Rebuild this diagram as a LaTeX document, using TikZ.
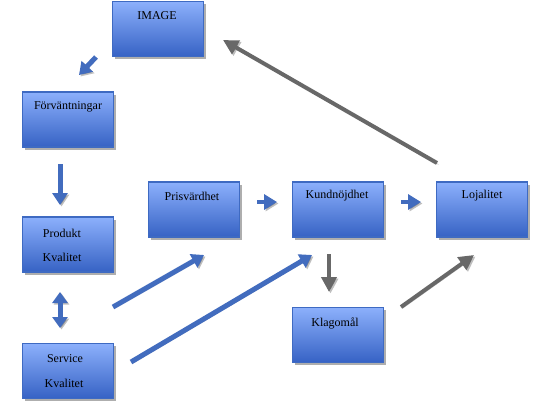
\documentclass[tikz,border=0pt]{standalone}
\usepackage{fontspec}
\setmainfont{Liberation Serif}
\usetikzlibrary{arrows.meta,shadows}
\definecolor{boxtop}{RGB}{140,176,252}
\definecolor{boxbot}{RGB}{54,98,196}
\definecolor{boxline}{RGB}{62,106,194}
\definecolor{arrblue}{RGB}{66,108,190}
\definecolor{arrgray}{RGB}{104,104,104}
\begin{document}
\begin{tikzpicture}[x=1pt,y=-1pt,
  box/.style={draw=boxline, line width=1.2pt, top color=boxtop, bottom color=boxbot,
    minimum width=91pt, minimum height=55pt, inner sep=0pt,
    drop shadow={shadow xshift=2.5pt,shadow yshift=-2.5pt,opacity=0.45,fill=black!70}},
  lbl/.style={font=\fontsize{12}{14}\selectfont, inner sep=0pt, text=black},
  ashadow/.style={preaction={draw=black, opacity=0.25, transform canvas={shift={(1.5pt,-1.5pt)}}}},
  barrow/.style={draw=arrblue, line width=5pt, -{Triangle[width=15pt,length=12pt]}, ashadow},
  bdouble/.style={draw=arrblue, line width=5pt, {Triangle[width=15pt,length=11pt]}-{Triangle[width=15pt,length=11pt]}, ashadow},
  sarrow/.style={draw=arrblue, line width=4pt, -{Triangle[width=15pt,length=13pt]}, ashadow},
  garrow/.style={draw=arrgray, line width=4pt, -{Triangle[width=15pt,length=15pt]}, ashadow}]
\useasboundingbox[fill=white] (0,0) rectangle (541,408);

% boxes
\node[box] (image) at (158,29) {};
\node[box] (forv) at (68,119.5) {};
\node[box] (prod) at (68,244.5) {};
\node[box] (serv) at (68,371) {};
\node[box] (pris) at (194,209.5) {};
\node[box] (kund) at (338,209.5) {};
\node[box] (loja) at (482,209.5) {};
\node[box] (klag) at (338,335) {};

% texts
\node[lbl] (imaget) at (157,16) {IMAGE};
\node[lbl] (forvt) at (68,107) {Förväntningar};
\node[lbl] (prodt1) at (62,233) {Produkt};
\node[lbl] (prodt2) at (62,257) {Kvalitet};
\node[lbl] (servt1) at (65,359) {Service};
\node[lbl] (servt2) at (64,383) {Kvalitet};
\node[lbl] (prist) at (192,196) {Prisvärdhet};
\node[lbl] (kundt) at (337,196) {Kundnöjdhet};
\node[lbl] (lojat) at (482,196) {Lojalitet};
\node[lbl] (klagt) at (335,323) {Klagomål};

% connector end points
\coordinate (a1s) at (96,57);   \coordinate (a1e) at (79,75);
\coordinate (a2s) at (60,164);  \coordinate (a2e) at (60,205);
\coordinate (a3s) at (60,292);  \coordinate (a3e) at (60,328);
\coordinate (a4s) at (113,307); \coordinate (a4e) at (204,255);
\coordinate (a5s) at (131,362); \coordinate (a5e) at (312,255);
\coordinate (a6s) at (257,202); \coordinate (a6e) at (277,202);
\coordinate (a7s) at (401,202); \coordinate (a7e) at (421,202);
\coordinate (a8s) at (329,254); \coordinate (a8e) at (329,292);
\coordinate (a9s) at (401,307); \coordinate (a9e) at (474,255);
\coordinate (a10s) at (437,163); \coordinate (a10e) at (223,40);

% connectors
\draw[barrow] (a1s) -- (a1e);
\draw[barrow] (a2s) -- (a2e);
\draw[bdouble] (a3s) -- (a3e);
\draw[barrow] (a4s) -- (a4e);
\draw[barrow] (a5s) -- (a5e);
\draw[sarrow] (a6s) -- (a6e);
\draw[sarrow] (a7s) -- (a7e);
\draw[garrow] (a8s) -- (a8e);
\draw[garrow] (a9s) -- (a9e);
\draw[garrow] (a10s) -- (a10e);
\end{tikzpicture}
\end{document}
